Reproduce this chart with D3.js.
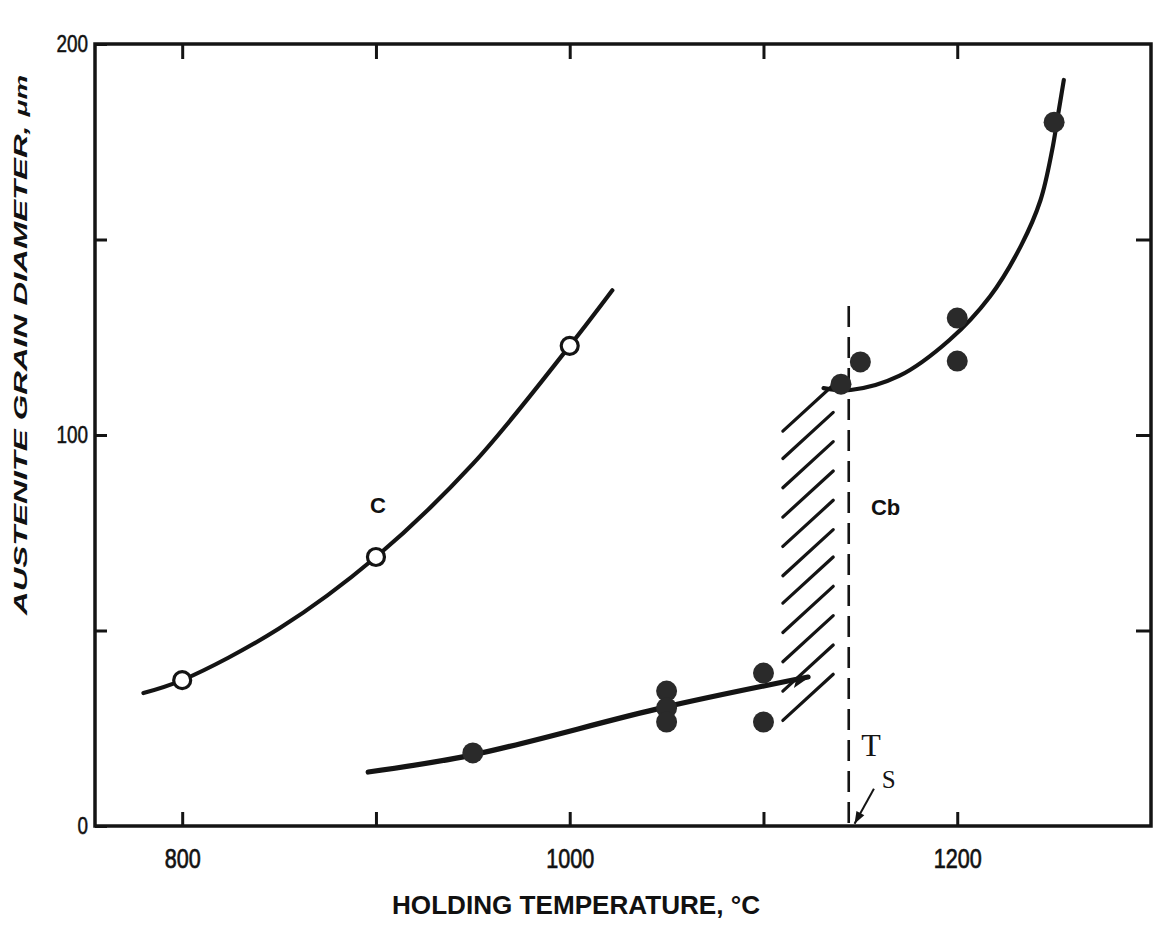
<!DOCTYPE html>
<html>
<head>
<meta charset="utf-8">
<script src="https://cdn.jsdelivr.net/npm/d3@7/dist/d3.min.js"></script>
<style>
  html, body { margin: 0; padding: 0; background: #ffffff; }
  svg { display: block; }
  .lbl { font-family: "Liberation Sans", Arial, sans-serif; fill: #111; }
</style>
</head>
<body>
<svg id="chart" width="1153" height="929"></svg>
<script>
// Plain carbon steel (C): measured grain size, open circles
const cTemps = [800, 900, 1000];
const cDiam = [37.3, 68.8, 122.8];
// Smoothed trend drawn through the C data
const cCurveTemps = [780, 800, 850, 900, 950, 1000, 1022];
const cCurveDiam = [34, 37.3, 50.5, 68.8, 92.6, 122.8, 137];

// Niobium steel (Cb): measured grain size, filled circles
const cbTemps = [950, 1050, 1050, 1050, 1100, 1100, 1140, 1150, 1200, 1200, 1250];
const cbDiam = [18.7, 34.5, 30.2, 26.6, 39.1, 26.6, 113, 118.7, 129.9, 118.9, 180];
// Cb trend below the coarsening range (ends in an arrow)
const cbLowTemps = [896, 950, 1049, 1123];
const cbLowDiam = [13.8, 18.2, 30.4, 38.1];
// Cb trend above the coarsening range
const cbHighTemps = [1131, 1145, 1170, 1196, 1217, 1233, 1243, 1249, 1252, 1255];
const cbHighDiam = [112, 111.5, 115.1, 124.3, 135.5, 148.5, 160.1, 172.9, 181.8, 190.8];

// Solvus temperature Ts and the hatched grain-coarsening band
const solvusTemp = 1144;
const solvusTop = 133;
const hatchTemps = [1110, 1136];
const hatchDiam = [101, 94, 86.5, 79, 71.5, 64, 57, 49.5, 42, 34.5, 27];
const hatchRise = 11.8;

// Axis ticks and labels
const xTicks = [800, 900, 1000, 1100, 1200];
const xTickLabels = ["800", "", "1000", "", "1200"];
const yTicks = [0, 50, 100, 150, 200];
const yTickLabels = ["0", "", "100", "", "200"];

const svg = d3.select("#chart");
const plotLeft = 95, plotRight = 1151, plotTop = 44, plotBottom = 826;

const x = d3.scaleLinear().domain([755, 1300]).range([plotLeft, plotRight]);
const y = d3.scaleLinear().domain([0, 200]).range([plotBottom, plotTop]);

const ink = "#141414";

// Frame
svg.append("rect")
  .attr("x", plotLeft).attr("y", plotTop)
  .attr("width", plotRight - plotLeft).attr("height", plotBottom - plotTop)
  .attr("fill", "none").attr("stroke", ink).attr("stroke-width", 3.5);

// Axes (inward ticks on all four sides)
const xLab = d3.scaleOrdinal().domain(xTicks).range(xTickLabels);
const yLab = d3.scaleOrdinal().domain(yTicks).range(yTickLabels);

const gx = svg.append("g").attr("transform", `translate(0,${plotBottom})`)
  .call(d3.axisBottom(x).tickValues(xTicks).tickSize(-14).tickPadding(23)
    .tickFormat(d => xLab(d)));
const gxTop = svg.append("g").attr("transform", `translate(0,${plotTop})`)
  .call(d3.axisTop(x).tickValues(xTicks).tickSize(-15).tickFormat(""));
const gy = svg.append("g").attr("transform", `translate(${plotLeft},0)`)
  .call(d3.axisLeft(y).tickValues(yTicks).tickSize(-12).tickPadding(7)
    .tickFormat(d => yLab(d)));
const gyR = svg.append("g").attr("transform", `translate(${plotRight},0)`)
  .call(d3.axisRight(y).tickValues(yTicks.slice(1, 4)).tickSize(-15).tickFormat(""));

[gx, gxTop, gy, gyR].forEach(g => {
  g.select(".domain").remove();
  g.selectAll(".tick line").attr("stroke", ink).attr("stroke-width", 3);
});
gx.selectAll(".tick text")
  .attr("class", "lbl").attr("font-size", 27).attr("fill", ink)
  .attr("stroke", ink).attr("stroke-width", 0.7)
  .attr("textLength", function () { return this.textContent.length * 12; })
  .attr("lengthAdjust", "spacingAndGlyphs");
gy.selectAll(".tick text")
  .attr("class", "lbl").attr("font-size", 23).attr("fill", ink)
  .attr("stroke", ink).attr("stroke-width", 0.5)
  .attr("textLength", function () { return this.textContent.length * 10.5; })
  .attr("lengthAdjust", "spacingAndGlyphs");

// Axis titles
svg.append("text").attr("class", "lbl")
  .attr("x", 576).attr("y", 914)
  .attr("text-anchor", "middle")
  .attr("font-size", 25).attr("font-weight", "bold")
  .attr("textLength", 368).attr("lengthAdjust", "spacingAndGlyphs")
  .text("HOLDING TEMPERATURE, °C");

const yt = svg.append("text").attr("class", "lbl")
  .attr("transform", "translate(27,345) rotate(-90)")
  .attr("text-anchor", "middle")
  .attr("font-size", 19).attr("font-style", "italic").attr("font-weight", "bold")
  .attr("textLength", 540).attr("lengthAdjust", "spacingAndGlyphs");
yt.append("tspan").text("AUSTENITE GRAIN DIAMETER, ");
yt.append("tspan").attr("font-size", 16).text("μm");

// Hatched coarsening band
svg.append("g").selectAll("line")
  .data(hatchDiam).join("line")
  .attr("x1", x(hatchTemps[0])).attr("y1", d => y(d))
  .attr("x2", x(hatchTemps[1])).attr("y2", d => y(d + hatchRise))
  .attr("stroke", ink).attr("stroke-width", 3.2).attr("stroke-linecap", "round");

// Solvus line Ts
svg.append("line")
  .attr("x1", x(solvusTemp)).attr("x2", x(solvusTemp))
  .attr("y1", y(solvusTop)).attr("y2", y(0))
  .attr("stroke", ink).attr("stroke-width", 2.6)
  .attr("stroke-dasharray", "21,10");

// Arrowheads
const defs = svg.append("defs");
defs.append("marker").attr("id", "barb")
  .attr("viewBox", "-20 -10 24 20").attr("refX", 0).attr("refY", 0)
  .attr("markerUnits", "userSpaceOnUse")
  .attr("markerWidth", 24).attr("markerHeight", 20).attr("orient", "auto")
  .append("path").attr("d", "M2,0 L-16,8 L-12,0 Z").attr("fill", ink);
defs.append("marker").attr("id", "tip")
  .attr("viewBox", "-14 -6 16 12").attr("refX", 0).attr("refY", 0)
  .attr("markerUnits", "userSpaceOnUse")
  .attr("markerWidth", 16).attr("markerHeight", 12).attr("orient", "auto")
  .append("path").attr("d", "M0,0 L-12,-4.5 L-12,4.5 Z").attr("fill", ink);

// Trend lines
const line = d3.line().x(d => x(d[0])).y(d => y(d[1])).curve(d3.curveCatmullRom.alpha(0.5));

svg.append("path")
  .datum(d3.zip(cCurveTemps, cCurveDiam))
  .attr("d", line).attr("fill", "none")
  .attr("stroke", ink).attr("stroke-width", 4.2).attr("stroke-linecap", "round");

svg.append("path")
  .datum(d3.zip(cbLowTemps, cbLowDiam))
  .attr("d", line).attr("fill", "none")
  .attr("stroke", ink).attr("stroke-width", 5.2).attr("stroke-linecap", "round")
  .attr("marker-end", "url(#barb)");

svg.append("path")
  .datum(d3.zip(cbHighTemps, cbHighDiam))
  .attr("d", line).attr("fill", "none")
  .attr("stroke", ink).attr("stroke-width", 4.2).attr("stroke-linecap", "round");

// Data points
svg.append("g").selectAll("circle")
  .data(d3.zip(cTemps, cDiam)).join("circle")
  .attr("cx", d => x(d[0])).attr("cy", d => y(d[1])).attr("r", 8.5)
  .attr("fill", "#ffffff").attr("stroke", ink).attr("stroke-width", 3.2);

svg.append("g").selectAll("circle")
  .data(d3.zip(cbTemps, cbDiam)).join("circle")
  .attr("cx", d => x(d[0])).attr("cy", d => y(d[1])).attr("r", 10.5)
  .attr("fill", "#2a2a2a");

// Series labels
svg.append("text").attr("class", "lbl")
  .attr("x", x(901)).attr("y", y(82)).attr("dy", "0.35em")
  .attr("text-anchor", "middle").attr("font-size", 22).attr("font-weight", "bold")
  .text("C");
svg.append("text").attr("class", "lbl")
  .attr("x", x(1163)).attr("y", y(81.5)).attr("dy", "0.35em")
  .attr("text-anchor", "middle").attr("font-size", 22).attr("font-weight", "bold")
  .text("Cb");

// Ts label with pointer to the axis
const ts = svg.append("text")
  .attr("x", x(1150.5)).attr("y", y(18))
  .attr("font-family", "'Liberation Serif', 'DejaVu Serif', serif")
  .attr("font-size", 32).attr("fill", ink);
ts.append("tspan").text("T");
ts.append("tspan").attr("font-size", 25).attr("dx", 1).attr("dy", 32).text("S");

svg.append("line")
  .attr("x1", x(1157)).attr("y1", y(9.5))
  .attr("x2", x(1147)).attr("y2", y(0.6))
  .attr("stroke", ink).attr("stroke-width", 2)
  .attr("marker-end", "url(#tip)");
</script>
</body>
</html>
